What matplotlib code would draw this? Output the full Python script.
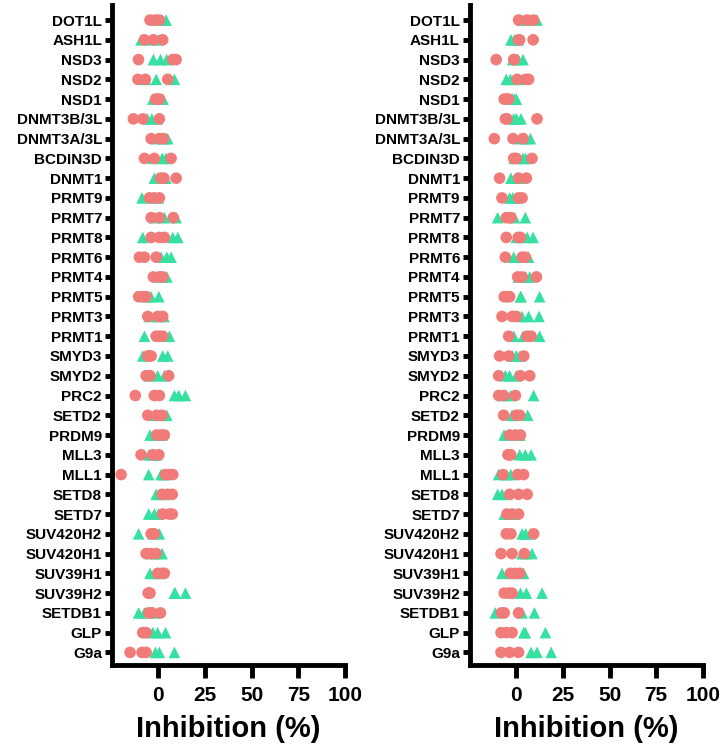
import matplotlib.pyplot as plt
import numpy as np

plt.rcParams['font.family'] = ['Liberation Sans', 'DejaVu Sans']
plt.rcParams['font.weight'] = 'bold'

# categories, top to bottom
targets = ['DOT1L', 'ASH1L', 'NSD3', 'NSD2', 'NSD1', 'DNMT3B/3L', 'DNMT3A/3L',
           'BCDIN3D', 'DNMT1', 'PRMT9', 'PRMT7', 'PRMT8', 'PRMT6', 'PRMT4',
           'PRMT5', 'PRMT3', 'PRMT1', 'SMYD3', 'SMYD2', 'PRC2', 'SETD2', 'PRDM9',
           'MLL3', 'MLL1', 'SETD8', 'SETD7', 'SUV420H2', 'SUV420H1', 'SUV39H1',
           'SUV39H2', 'SETDB1', 'GLP', 'G9a']

# left panel: red circles / green triangles (3 replicates each)
left_circ = [[-4.5, -1.6, 0.5], [-7.5, -2.7, 2.3], [-10.7, 7.7, 9.5], [-11, -7, 5],
             [-1.5, -0.5, 0.5], [-13.4, -8.4, 0.5], [-3.9, 0.5, 2.7], [-7.5, -2.2, 6.8],
             [1.1, 2.9, 9.5], [-4.8, -2.2, 0.5], [-3.9, 0.5, 8], [-3.9, 0.5, 3.2],
             [-10.2, -7.5, -1.2], [-2.7, 0.5, 2.3], [-10.6, -8.5, -6.6], [-5.7, -0.4, 2.3],
             [-1.2, 0.5, 2.3], [-5.7, -4.8, -3.9], [-6.6, -4.5, 5.5], [-12.4, -2.2, 0.5],
             [-5.7, -0.9, 2], [-0.9, 1.4, 3.2], [-9.3, -3, 0.2], [-20, 3.8, 5.9, 7.7],
             [2, 5, 7.4], [2.3, 5.9, 7.4], [-3.9, -3, -2.2], [-6.6, -3.9, -1.2],
             [-0.4, 2, 3.2], [-5.5, -5, -4.5], [-5.2, -3.4, 1.1], [-8.4, -7.5, -6.6],
             [-15.2, -8.8, -6.6]]
left_tri = [[-1, 2, 4.1], [-9.3, -4, 0], [-2.7, 1.1, 4.5], [-7, -1.2, 8.6],
            [-3, 0, 2.5], [-6, -3.5, -0.5], [-1, 3, 5], [-3, 2, 4],
            [-2.2, 2, 4], [-8.8, -3, 0], [-2, 3.2, 9.5], [-8.4, 7.7, 10.4],
            [1.4, 4.5, 6.8], [0, 2, 4.5], [-6, -4, 0.2], [-5, 0, 3],
            [-7.5, 3, 5.9], [-8.4, 2.3, 5], [-5, -0.4, 3.2], [8.6, 10.9, 14.5],
            [-2, 1, 4.5], [-4.5, -2, 2], [-5, -3, -1], [-5.2, 1.4, 3],
            [-1.2, 1, 4], [-5.2, -2.2, 0], [-10.6, -3, 0.5], [-4, -1, 2],
            [-4.5, -1, 1], [8.6, 9, 14.5], [-10.6, -7.5, -2], [-3, -0.4, 3.8],
            [-1.6, 0.5, 8.6]]

# right panel
right_circ = [[1.2, 5.8, 9.3], [1.2, 1.8, 9], [-10.8, -1.4, -1], [0.4, 5, 6.6],
              [-6.5, -5.2, -4.1], [-5.9, -5, 11.1], [-11.8, -1.8, 3.6], [-1.4, 0, 8.4],
              [-9, 1.2, 5.4], [-7.7, 1.2, 3.1], [-5.4, -4, -2.9], [-5.4, 1, 2.2],
              [-5.9, 3.1, 4.8], [0.7, 3.1, 10.8], [-6.5, -5, -3.6], [-7.7, -2.2, 0],
              [-4.1, 5.8, 7.9], [-9, -4.1, 4], [-9.5, 2.2, 7.2], [-9.5, -6.8, -0.5],
              [-6.8, 0, 1.8], [-3.6, -0.5, 2.2], [-4.5, -3.6, -3], [-7.2, 0.7, 3.9],
              [-3.6, 1.2, 5.8], [-5, -2.3, 1.2], [-5.4, -2.9, 9.3], [-8.2, -2.3, 4.3],
              [-3.2, -0.5, 1.8], [-6.5, -4, -2.3], [-8, -6.5, 1.2], [-8.2, -5.4, -2.3],
              [-8.2, -3.6, 1.2]]
right_tri = [[3, 7, 11.1], [-2.9, -1, 1], [-2, 1, 3.6], [-5.4, -3.2, 1],
             [-2, -1, 0], [-1.4, 0, 2.5], [2, 5, 7.5], [-1, 3.6, 5],
             [-2.9, 0, 2], [-3.6, -2, 0], [-10, -1, 4.8], [0, 5.8, 9],
             [-1.4, 3, 6.6], [1, 5, 7.2], [2.2, 2.5, 12.5], [3, 6.6, 12.2],
             [-1.4, 3.6, 12.5], [-2, 0, 2], [-5.9, -3.6, 0], [-7, -3, 9.3],
             [-2.3, 0, 6.1], [-6.6, -3, 2], [1.8, 4.8, 7.9], [-9.5, -5.4, -3],
             [-10, -7.7, -5], [-6.5, -4, -1], [3.1, 5, 7.5], [3.1, 5, 8.4],
             [-7.7, -2, 3.9], [2.2, 5.4, 13.8], [-11.3, 3.1, 9.7], [4, 4.8, 15.6],
             [7.9, 11.1, 18.7]]

red = '#F07B78'
green = '#36E0A0'

fig = plt.figure(figsize=(7.26, 7.5), dpi=100)
ax1 = fig.add_axes([0.154, 0.113, 0.321, 0.880])
ax2 = fig.add_axes([0.647, 0.113, 0.321, 0.880])

n = len(targets)
ypos = np.arange(n)[::-1]

for ax, circ, tri in [(ax1, left_circ, left_tri), (ax2, right_circ, right_tri)]:
    for y, vals in zip(ypos, tri):
        ax.scatter(vals, [y] * len(vals), marker='^', s=70, color=green,
                   edgecolors='none', zorder=2)
    for y, vals in zip(ypos, circ):
        ax.scatter(vals, [y] * len(vals), marker='o', s=70, color=red,
                   edgecolors='none', zorder=3)
    ax.set_xlim(-25, 100)
    ax.set_ylim(-0.65, n - 0.25)
    ax.set_yticks(ypos)
    ax.set_yticklabels(targets, fontsize=11, fontweight='bold')
    ax.set_xticks([0, 25, 50, 75, 100])
    ax.set_xticklabels(['0', '25', '50', '75', '100'], fontsize=15, fontweight='bold')
    ax.set_xlabel('Inhibition (%)', fontsize=21, fontweight='bold', labelpad=7)
    for side in ['top', 'right']:
        ax.spines[side].set_visible(False)
    for side in ['left', 'bottom']:
        ax.spines[side].set_linewidth(3.5)
    ax.tick_params(axis='x', length=9, width=3.5, pad=6)
    ax.tick_params(axis='y', length=5, width=3.5, pad=2)

plt.savefig('out.png', dpi=100)
